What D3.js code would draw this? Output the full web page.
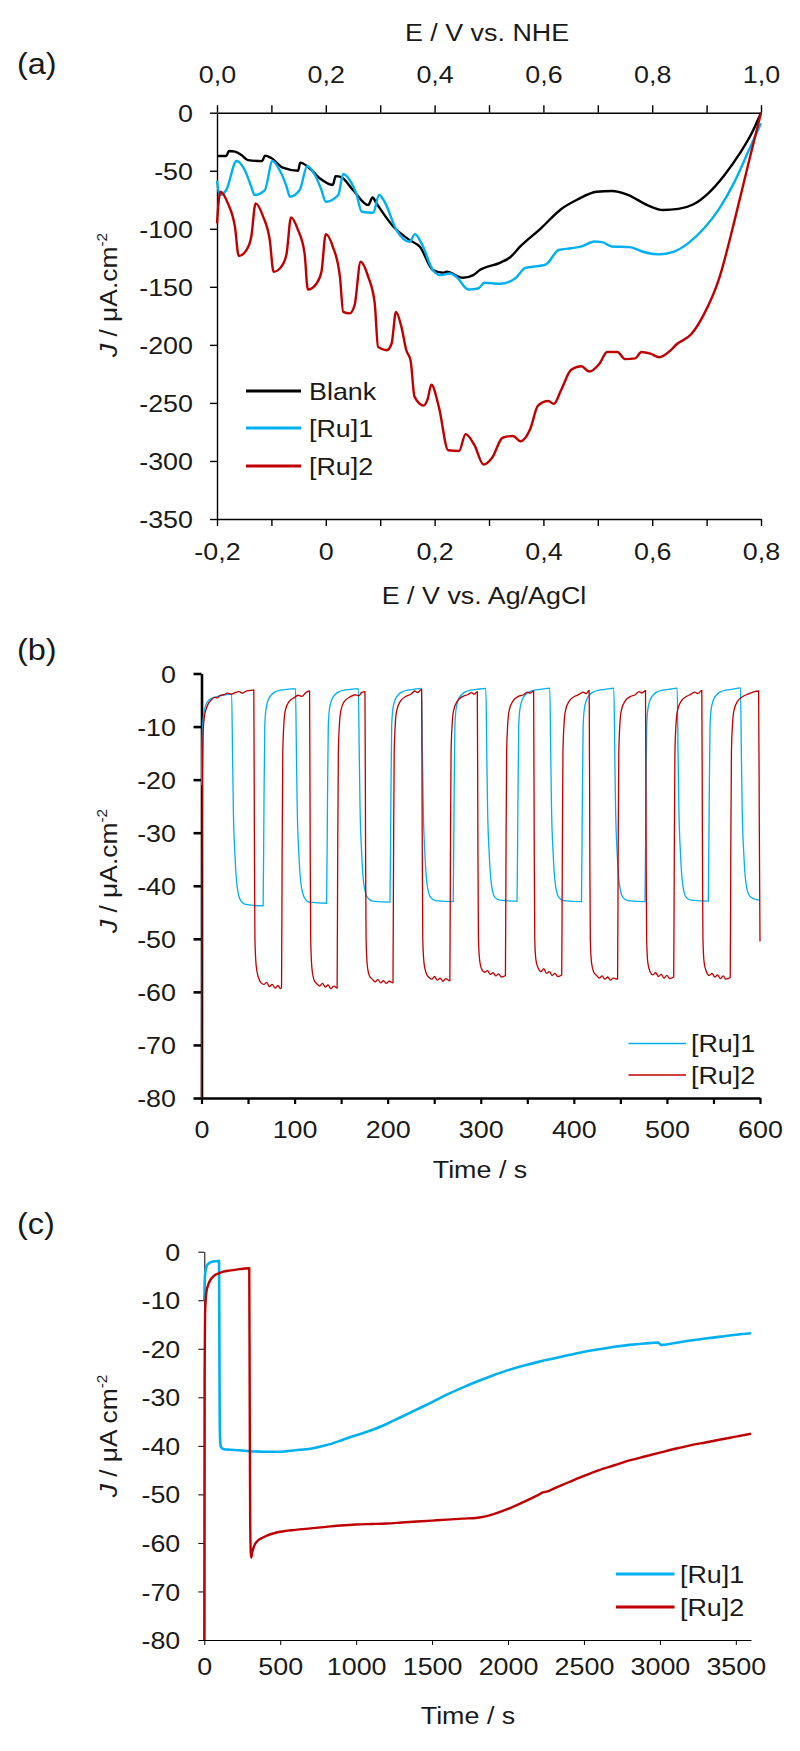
<!DOCTYPE html>
<html><head><meta charset="utf-8">
<script src="https://cdn.jsdelivr.net/npm/d3@7"></script>
<style>
html,body{margin:0;padding:0;background:#fff;}
svg{display:block;font-family:"Liberation Sans",Arial,sans-serif;}
</style></head><body>
<svg id="chart" width="800" height="1751"></svg>
<script>
// ---------- DATA ----------
// Panel (a): J (µA cm-2) vs E (V vs Ag/AgCl)
const blankE = [-0.2,-0.183,-0.178,-0.167,-0.155,-0.143,-0.117,-0.112,-0.101,-0.079,-0.051,-0.047,-0.033,-0.011,0.013,0.018,0.029,0.05,0.078,0.086,0.093,0.124,0.154,0.173,0.197,0.216,0.222,0.252,0.271,0.283,0.32,0.339,0.358,0.395,0.433,0.461,0.498,0.526,0.554,0.592,0.62,0.648,0.676,0.704,0.733,0.761,0.784,0.8];
const blankJ = [-37.3,-37.3,-33,-33.6,-36.5,-40.8,-41.7,-37,-38.8,-47.4,-50,-43,-46.5,-56.6,-62.3,-54.6,-55.7,-66.6,-79.6,-73,-78,-98,-109.7,-115.5,-135.6,-137.9,-137,-142.2,-139.9,-135.6,-129.3,-124.5,-115,-99.8,-82.9,-75.2,-68.1,-67.5,-70.5,-79.8,-83.8,-82.9,-78.9,-69,-53.6,-35.1,-16.6,0];
const ru1E = [-0.2,-0.195,-0.183,-0.164,-0.149,-0.137,-0.131,-0.112,-0.098,-0.085,-0.072,-0.066,-0.048,-0.034,-0.02,-0.008,0.0,0.023,0.032,0.044,0.056,0.066,0.087,0.098,0.108,0.13,0.154,0.164,0.176,0.197,0.21,0.228,0.24,0.262,0.28,0.292,0.32,0.348,0.367,0.39,0.405,0.428,0.451,0.47,0.494,0.508,0.526,0.559,0.583,0.611,0.639,0.667,0.695,0.723,0.751,0.775,0.8];
const ru1J = [-58.6,-70.9,-66.6,-41.6,-49.4,-63.8,-70.9,-66.6,-41.6,-49.4,-63.8,-72.4,-66.6,-45.9,-53.7,-66.6,-76.7,-70.9,-52.8,-58,-69.5,-85.3,-86.2,-70.9,-76.7,-101.1,-111.2,-104.6,-112.6,-135.6,-139.9,-138.5,-141.4,-152.3,-151.4,-146.5,-147.4,-142.9,-133.7,-132.2,-130.6,-118.3,-116.8,-115.2,-110.9,-111.5,-115.2,-115.8,-119.8,-122,-119.8,-112.1,-99.8,-82.9,-59.8,-35.1,-9];
const ru2E = [-0.2,-0.194,-0.18,-0.167,-0.16,-0.146,-0.137,-0.129,-0.115,-0.103,-0.096,-0.082,-0.072,-0.064,-0.051,-0.039,-0.033,-0.017,-0.008,0.0,0.013,0.026,0.032,0.044,0.053,0.064,0.078,0.09,0.096,0.112,0.121,0.129,0.139,0.148,0.156,0.163,0.18,0.187,0.194,0.208,0.225,0.245,0.257,0.273,0.29,0.306,0.325,0.344,0.358,0.376,0.39,0.409,0.419,0.433,0.451,0.47,0.484,0.503,0.517,0.536,0.55,0.569,0.58,0.597,0.613,0.634,0.644,0.672,0.695,0.723,0.751,0.775,0.8];
const ru2J = [-95.4,-68.1,-78.1,-98.3,-123.5,-118.4,-106.9,-78.1,-89.7,-109.7,-137.1,-132.8,-121.2,-90.2,-101.1,-121.2,-152.3,-147.1,-137.1,-104.6,-115.5,-141.4,-171.6,-172.9,-165.8,-128.4,-141.4,-164.4,-201.7,-204.6,-198.8,-171.6,-184.5,-204.6,-213.8,-244.6,-252.3,-247,-234.4,-253.8,-290.8,-291.4,-276.9,-286.2,-303.1,-297,-280,-278.5,-283.1,-272.3,-252.3,-248.3,-250.8,-238.4,-221.5,-218.4,-223,-216.3,-206.1,-206.1,-212.3,-211.6,-206.1,-207.6,-210.7,-204.6,-199.9,-190.7,-173.7,-142.9,-93.6,-47.4,0];

// Panel (b): chopped-light chronoamperometry, [time s, J µA cm-2]
const chopRu1 = [[0,-21],[0.6,-13],[1.5,-9],[3,-7],[5,-5.8],[8,-5],[12,-4.6],[20,-4.2],[32.4,-3.9],
[33.3,-14.5],[34.2,-25.5],[36,-34.5],[38.4,-40.3],[42.1,-42.8],[47.4,-43.5],[66.2,-43.8],
[67.1,-25],[68,-10],[69.2,-6.8],[71.6,-5],[75.2,-4],[78.7,-3.5],[86.2,-3.1],[91.2,-3.0],[101,-2.85],
[101.9,-14],[102.8,-25],[104.6,-34],[107,-39.8],[110.7,-42.3],[116,-43.1],[134.4,-43.3],
[135.3,-25],[136.2,-10],[137.4,-6.8],[139.8,-5],[143.4,-4],[146.9,-3.5],[154.4,-3.1],[159.4,-3.0],[168.5,-2.85],
[169.4,-14],[170.3,-25],[172.1,-34],[174.5,-39.8],[178.2,-42.2],[183.5,-42.9],[202.5,-43.1],
[203.4,-25],[204.3,-10],[205.5,-6.8],[207.9,-5],[211.5,-4],[215,-3.5],[222.5,-3.1],[227.5,-3.0],[236.4,-2.8],
[237.3,-14],[238.2,-25],[240,-34],[242.4,-39.8],[246.1,-42.2],[251.4,-42.8],[270.4,-43.0],
[271.3,-25],[272.2,-10],[273.4,-6.8],[275.8,-5],[279.4,-4],[282.9,-3.5],[290.4,-3.1],[295.4,-3.0],[305.5,-2.8],
[306.4,-14],[307.3,-25],[309.1,-34],[311.5,-39.8],[315.2,-42.2],[320.5,-42.7],[339,-42.9],
[339.9,-25],[340.8,-10],[342,-6.8],[344.4,-5],[348,-4],[351.5,-3.5],[359,-3.1],[364,-3.0],[374.2,-2.75],
[375.1,-14],[376,-25],[377.8,-34],[380.2,-39.8],[383.9,-42.2],[389.2,-42.8],[408.2,-43.0],
[409.1,-25],[410,-10],[411.2,-6.8],[413.6,-5],[417.2,-4],[420.7,-3.5],[428.2,-3.1],[433.2,-3.0],[443,-2.75],
[443.9,-14],[444.8,-25],[446.6,-34],[449,-39.8],[452.7,-42.2],[458,-42.8],[476.5,-43.0],
[477.4,-25],[478.3,-10],[479.5,-6.8],[481.9,-5],[485.5,-4],[489,-3.5],[496.5,-3.1],[501.5,-3.0],[511,-2.75],
[511.9,-14],[512.8,-25],[514.6,-34],[517,-39.8],[520.7,-42.2],[526,-42.7],[544.5,-42.9],
[545.4,-25],[546.3,-10],[547.5,-6.8],[549.9,-5],[553.5,-4],[557,-3.5],[564.5,-3.1],[569.5,-3.0],[579,-2.7],
[579.9,-14],[580.8,-25],[582.6,-34],[585,-39.6],[588.7,-41.9],[594,-42.5],[600,-42.7]];

const chopRu2 = [[0,-80],[0.4,-40],[1.0,-18],[1.8,-11],[3,-8.3],[5,-6.7],[8,-5.5],[11,-4.9],[14,-4.5],[17,-4.6],[20,-4.1],[24,-4.0],[28,-3.7],[32,-3.9],[36,-3.6],[40,-3.4],[44,-3.7],[48,-3.3],[52,-3.2],[56.2,-3.1],
[56.8,-30],[57.4,-50],[58.7,-55],[61,-57.2],[64,-58.3],[67,-58.6],[70,-58.2],[73,-59],[76,-58.6],[79,-59.3],[82,-58.8],[85,-59.4],[86,-59.1],
[86.6,-35],[87.3,-15],[88.5,-9.5],[90,-7],[94,-5.3],[100,-4.5],[104,-4.1],[108,-4.3],[112,-3.6],[116.1,-3.3],
[116.7,-30],[117.3,-50],[118.6,-55.5],[121,-57.8],[124,-58.5],[127,-58.9],[130,-58.4],[133,-59.1],[136,-58.7],[139,-59.4],[142,-58.9],[145.7,-59.3],
[146.3,-35],[147,-15],[148.2,-9.5],[149.7,-7],[153.7,-5.2],[159.7,-4.4],[165,-4.0],[169,-4.2],[172,-3.6],[175.6,-3.4],
[176.2,-30],[176.8,-50],[178.1,-55],[180.5,-57],[183.5,-57.6],[186.5,-58.1],[189.5,-57.7],[192.5,-58.3],[195.5,-57.9],[198.5,-58.4],[201.5,-58],[205.7,-58.3],
[206.3,-35],[207,-15],[208.2,-9.5],[209.7,-7],[213.7,-5.2],[219.7,-4.3],[225,-3.9],[229,-3.3],[232,-3.6],[236.5,-3.0],
[237.1,-30],[237.7,-50],[239,-54.5],[241.4,-56.5],[244.4,-57.3],[247.4,-57.6],[250.4,-57.1],[253.4,-57.8],[256.4,-57.4],[259.4,-58],[262.4,-57.5],[266.8,-57.9],
[267.4,-35],[268.1,-15],[269.3,-9.5],[270.8,-7],[274.8,-5.2],[280.8,-4.3],[286,-4.0],[290,-3.6],[293,-3.9],[296.3,-3.4],
[296.9,-30],[297.5,-50],[298.8,-54],[301.2,-55.8],[304.2,-56.3],[307.2,-56.0],[310.2,-56.7],[313.2,-56.4],[316.2,-57],[319.2,-56.6],[322.2,-57.2],[326.5,-56.9],
[327.1,-35],[327.8,-15],[329,-9.5],[330.5,-7],[334.5,-5.2],[340.5,-4.3],[346,-4.0],[350,-3.5],[353,-3.7],[356.8,-3.3],
[357.4,-30],[358,-50],[359.3,-54],[361.7,-55.5],[364.7,-56.2],[367.7,-55.6],[370.7,-56.5],[373.7,-56.2],[376.7,-56.9],[379.7,-56.5],[382.7,-57.1],[387,-56.8],
[387.6,-35],[388.3,-15],[389.5,-9.5],[391,-7],[395,-5.2],[401,-4.3],[406,-3.9],[410,-3.5],[413,-3.8],[416.5,-3.2],
[417.1,-30],[417.7,-50],[419,-54.5],[421.4,-56.3],[424.4,-56.9],[427.4,-57.4],[430.4,-57],[433.4,-57.6],[436.4,-57.2],[439.4,-57.8],[442.4,-57.4],[447,-57.6],
[447.6,-35],[448.3,-15],[449.5,-9.5],[451,-7],[455,-5.2],[461,-4.3],[466,-4.0],[470,-3.4],[473,-3.7],[477,-3.2],
[477.6,-30],[478.2,-50],[479.5,-54.5],[481.9,-56.2],[484.9,-56.8],[487.9,-56.4],[490.9,-57.1],[493.9,-56.7],[496.9,-57.4],[499.9,-56.9],[502.9,-57.5],[507.3,-57.2],
[507.9,-35],[508.6,-15],[509.8,-9.5],[511.3,-7],[515.3,-5.2],[521.3,-4.3],[526,-3.9],[530,-3.5],[533,-3.8],[537.5,-3.2],
[538.1,-30],[538.7,-50],[540,-54.5],[542.4,-56.2],[545.4,-56.9],[548.4,-56.5],[551.4,-57.2],[554.4,-56.8],[557.4,-57.5],[560.4,-57],[563.4,-57.6],[568,-57.3],
[568.6,-35],[569.3,-15],[570.5,-9.5],[572,-7],[576,-5.2],[582,-4.3],[587,-3.9],[591,-3.6],[594,-3.4],[598.5,-3.3],
[599.3,-30],[600,-50.5]];

// Panel (c): long-term chronoamperometry, [time s, J µA cm-2]
const longRu1 = [[0,-10],[3,-6],[7,-4.1],[15,-3],[30,-2.4],[50,-2.1],[75,-1.95],[97,-1.9],[99,-15],[101,-32],[104,-38.5],[110,-40.3],[130,-40.7],[170,-40.8],[230,-40.9],[300,-41.1],[400,-41.2],[500,-41.2],[600,-40.9],[700,-40.6],[800,-39.9],[900,-38.9],[1000,-37.8],[1100,-36.8],[1200,-35.5],[1300,-34.0],[1400,-32.5],[1500,-31.0],[1600,-29.4],[1700,-28.0],[1800,-26.7],[1900,-25.5],[2000,-24.4],[2100,-23.5],[2200,-22.7],[2300,-22.0],[2400,-21.3],[2500,-20.6],[2600,-20.1],[2700,-19.6],[2800,-19.2],[2900,-18.9],[2990,-18.7],[3005,-19.2],[3100,-18.8],[3200,-18.3],[3300,-17.9],[3400,-17.5],[3500,-17.1],[3600,-16.8]];
const longRu2 = [[0,-80],[2,-25],[5,-13],[10,-9.5],[16,-7.9],[25,-6.9],[38,-5.9],[50,-5.4],[70,-4.8],[100,-4.4],[125,-4.1],[160,-3.9],[191,-3.8],[230,-3.6],[257,-3.5],[296,-3.4],[299,-30],[302,-55],[306,-62],[309,-63],[315,-62],[330,-60.5],[353,-59.5],[380,-59],[420,-58.4],[500,-57.7],[600,-57.3],[700,-57.0],[800,-56.7],[900,-56.4],[1000,-56.2],[1100,-56.1],[1200,-56.0],[1300,-55.8],[1400,-55.6],[1500,-55.4],[1600,-55.2],[1700,-55.0],[1800,-54.8],[1900,-54.1],[2000,-53.0],[2100,-51.6],[2200,-50.1],[2230,-49.6],[2260,-49.4],[2300,-48.8],[2400,-47.5],[2500,-46.2],[2600,-45.0],[2700,-44.0],[2800,-43.0],[2900,-42.2],[3000,-41.4],[3100,-40.6],[3200,-39.9],[3300,-39.3],[3400,-38.7],[3500,-38.1],[3600,-37.5]];

// Tick values
const aYTicks = [0,-50,-100,-150,-200,-250,-300,-350];
const aXTicks = [-0.2,-0.1,0,0.1,0.2,0.3,0.4,0.5,0.6,0.7,0.8];
const aTopTicks = [0,0.1,0.2,0.3,0.4,0.5,0.6,0.7,0.8,0.9,1.0];
const bYTicks = [0,-10,-20,-30,-40,-50,-60,-70,-80];
const bXTicks = [0,50,100,150,200,250,300,350,400,450,500,550,600];
const cYTicks = [0,-10,-20,-30,-40,-50,-60,-70,-80];
const cXTicks = [0,500,1000,1500,2000,2500,3000,3500];

const BLUE = "#00B0F0", RED = "#C00000", BLACK = "#000000", TXT = "#1a1a1a";
const FS = 24, SX = 1.12;

// ---------- DRAW ----------
const svg = d3.select("#chart");

function text(x, y, s, anchor = "start", size = FS, sx = SX) {
  return svg.append("text")
    .attr("transform", `translate(${x},${y}) scale(${sx},1)`)
    .attr("text-anchor", anchor).attr("font-size", size).attr("fill", TXT).text(s);
}
function yTitle(x, y, main, sup) {
  const t = svg.append("text")
    .attr("transform", `translate(${x},${y}) rotate(-90) scale(1.1,1)`)
    .attr("text-anchor", "middle").attr("font-size", FS).attr("fill", TXT);
  t.append("tspan").attr("font-style", "italic").text("J");
  t.append("tspan").text(main);
  t.append("tspan").attr("font-size", 14).attr("dy", -10).text(sup);
  return t;
}
function styleAxis(g, opts) {
  g.attr("font-size", FS).attr("font-family", null);
  g.select(".domain").attr("stroke", opts.color || BLACK).attr("stroke-width", opts.sw);
  g.selectAll(".tick line").attr("stroke", opts.color || BLACK).attr("stroke-width", opts.tw || opts.sw);
  g.selectAll(".tick text").attr("x", null).attr("y", null).attr("dy", null)
    .attr("fill", TXT).attr("transform", opts.tt);
}
const plain = d => String(d);                       // hyphen minus like the original
const comma = d => (Math.round(d * 10) / 10).toFixed(1).replace(".", ",");

// ===== Panel (a) =====
const ax = d3.scaleLinear().domain([-0.2, 0.8]).range([217, 761]);
const axTop = d3.scaleLinear().domain([0, 1.0]).range([217, 761]);
const ay = d3.scaleLinear().domain([0, -350]).range([112.7, 519]);

const aLeft = svg.append("g").attr("transform", `translate(217,0)`)
  .call(d3.axisLeft(ay).tickValues(aYTicks).tickSize(7).tickSizeOuter(0).tickFormat(plain));
styleAxis(aLeft, {sw: 1.4, tt: `translate(-24,8.6) scale(${SX},1)`});
const aBottom = svg.append("g").attr("transform", `translate(0,519)`)
  .call(d3.axisBottom(ax).tickValues(aXTicks).tickSize(7).tickSizeOuter(0)
    .tickFormat(d => { const i = Math.round((d + 0.2) * 10); return i % 2 ? "" : (Math.abs(d) < 1e-9 ? "0" : comma(d)); }));
styleAxis(aBottom, {sw: 1.4, tt: `translate(0,41) scale(${SX},1)`});
const aTop = svg.append("g").attr("transform", `translate(0,112.7)`)
  .call(d3.axisTop(axTop).tickValues(aTopTicks).tickSize(7.5).tickSizeOuter(0)
    .tickFormat(d => { const i = Math.round(d * 10); return i % 2 ? "" : comma(d); }));
styleAxis(aTop, {sw: 1.4, tt: `translate(0,-29.7) scale(${SX},1)`});

const lineA = d3.line().x(d => ax(d[0])).y(d => ay(d[1])).curve(d3.curveMonotoneX);
[[blankE, blankJ, BLACK], [ru1E, ru1J, BLUE], [ru2E, ru2J, RED]].forEach(([e, j, c]) => {
  svg.append("path").datum(d3.zip(e, j)).attr("d", lineA)
    .attr("fill", "none").attr("stroke", c).attr("stroke-width", 2.4).attr("stroke-linejoin", "round");
});

text(17, 74, "(a)", "start", 29);
text(487, 41, "E / V vs. NHE", "middle");
text(484, 604, "E / V vs. Ag/AgCl", "middle");
yTitle(117, 295, " / μA.cm", "-2");

const legA = [["Blank", BLACK, 391], ["[Ru]1", BLUE, 428], ["[Ru]2", RED, 466]];
legA.forEach(([n, c, y]) => {
  svg.append("line").attr("x1", 246).attr("x2", 301).attr("y1", y).attr("y2", y)
    .attr("stroke", c).attr("stroke-width", 3);
  text(309, y + 8.6, n);
});

// ===== Panel (b) =====
const bx = d3.scaleLinear().domain([0, 600]).range([201.5, 760]);
const by = d3.scaleLinear().domain([0, -80]).range([673.5, 1098]);
const lineB = d3.line().x(d => bx(d[0])).y(d => by(d[1])).curve(d3.curveMonotoneX);

const bLeft = svg.append("g").attr("transform", `translate(201.5,0)`)
  .call(d3.axisLeft(by).tickValues(bYTicks).tickSize(8).tickSizeOuter(0).tickFormat(plain));
styleAxis(bLeft, {sw: 2.6, tt: `translate(-25.5,8.6) scale(${SX},1)`});
const bBottom = svg.append("g").attr("transform", `translate(0,1098)`)
  .call(d3.axisBottom(bx).tickValues(bXTicks).tickSize(6).tickSizeOuter(0)
    .tickFormat(d => d % 100 ? "" : String(d)));
styleAxis(bBottom, {sw: 2.6, tw: 2.2, tt: `translate(0,40) scale(${SX},1)`});

svg.append("path").datum(chopRu1).attr("d", lineB).attr("fill", "none")
  .attr("stroke", BLUE).attr("stroke-width", 1.3).attr("stroke-linejoin", "round");
svg.append("path").datum(chopRu2).attr("d", lineB).attr("fill", "none")
  .attr("stroke", RED).attr("stroke-width", 1.3).attr("stroke-linejoin", "round");

text(17, 659.5, "(b)", "start", 29);
text(480, 1178, "Time / s", "middle");
yTitle(117, 871, " / μA.cm", "-2");

[["[Ru]1", BLUE, 1043.5], ["[Ru]2", RED, 1075]].forEach(([n, c, y]) => {
  svg.append("line").attr("x1", 628.5).attr("x2", 686).attr("y1", y).attr("y2", y)
    .attr("stroke", c).attr("stroke-width", 1.5);
  text(691, y + 8.6, n);
});

// ===== Panel (c) =====
const cx = d3.scaleLinear().domain([0, 3600]).range([204.3, 751]);
const cy = d3.scaleLinear().domain([0, -80]).range([1251.7, 1640]);
const lineC = d3.line().x(d => cx(d[0])).y(d => cy(d[1])).curve(d3.curveMonotoneX);

const cLeft = svg.append("g").attr("transform", `translate(204.3,0)`)
  .call(d3.axisLeft(cy).tickValues(cYTicks).tickSize(6).tickSizeOuter(0).tickFormat(plain));
styleAxis(cLeft, {sw: 1, tt: `translate(-24,8.6) scale(${SX},1)`});
const cBottom = svg.append("g").attr("transform", `translate(0,1640)`)
  .call(d3.axisBottom(cx).tickValues(cXTicks).tickSize(5).tickSizeOuter(0).tickFormat(plain));
styleAxis(cBottom, {sw: 1, tt: `translate(0,35) scale(${SX},1)`});

svg.append("path").datum(longRu1).attr("d", lineC).attr("fill", "none")
  .attr("stroke", BLUE).attr("stroke-width", 2.6).attr("stroke-linejoin", "round");
svg.append("path").datum(longRu2).attr("d", lineC).attr("fill", "none")
  .attr("stroke", RED).attr("stroke-width", 2.4).attr("stroke-linejoin", "round");

text(17, 1234, "(c)", "start", 29);
text(468, 1724, "Time / s", "middle");
yTitle(117, 1436, " / μA cm", "-2");

[["[Ru]1", BLUE, 1574], ["[Ru]2", RED, 1607]].forEach(([n, c, y]) => {
  svg.append("line").attr("x1", 616).attr("x2", 674.5).attr("y1", y).attr("y2", y)
    .attr("stroke", c).attr("stroke-width", 3);
  text(680, y + 8.6, n);
});
</script>
</body></html>
